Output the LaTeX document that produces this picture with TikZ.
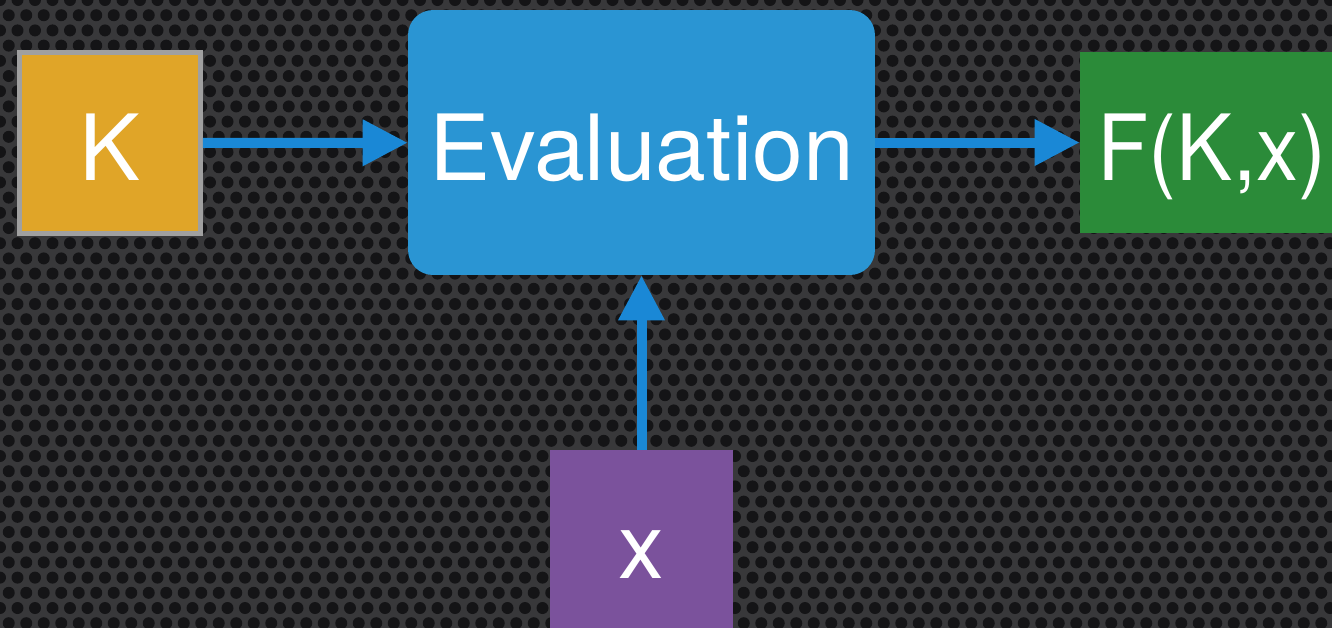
\documentclass[tikz,border=0pt]{standalone}
\usepackage{fontspec}
\setmainfont{TeX Gyre Heros}
\usepackage{xcolor}
\usetikzlibrary{arrows.meta}

\definecolor{meshgray}{HTML}{38383A}
\definecolor{holedark}{HTML}{141416}
\definecolor{keyorange}{HTML}{E0A528}
\definecolor{keyrim}{HTML}{A0A0A0}
\definecolor{evalblue}{HTML}{2A95D3}
\definecolor{linkblue}{HTML}{1A88D6}
\definecolor{outgreen}{HTML}{2B8B39}
\definecolor{inpurple}{HTML}{7B529C}

\begin{document}
\begin{tikzpicture}[x=0.02cm, y=-0.02cm,
        box/.style={inner sep=0pt, text=white, text height=1.5cm, text depth=0pt, font=\fontsize{52}{60}\selectfont},
        link/.style={draw=linkblue, line width=0.2cm, -{Triangle[length=0.9cm, width=0.88cm]}}]
                \useasboundingbox (0,0) rectangle (1332,627);
                \clip (0,0) rectangle (1332,627);
                % perforated background
                \fill[meshgray] (-10,-10) rectangle (1342,637);
                \foreach \j in {0,...,42} {
                    \fill[holedark] \foreach \i in {0,...,77} {({17.5*\i+8.75*mod(\j,2)},{15.2*\j}) circle (0.12cm)};
                }
                % boxes
                \node[box, fill=keyorange, draw=keyrim, line width=0.1cm, minimum width=3.62cm, minimum height=3.62cm] (key) at (110,143) {K};
                \node[box, fill=evalblue, rounded corners=0.5cm, minimum width=9.34cm, minimum height=5.3cm] (eval) at (641.5,142.5) {Evaluation};
                \node[box, fill=outgreen, minimum width=5.28cm, minimum height=3.62cm] (fkx) at (1212,142.5) {\addfontfeatures{FakeStretch=0.92}F(K,x)};
                \node[box, fill=inpurple, minimum width=3.66cm, minimum height=3.62cm] (xin) at (641.5,540.5) {x};
                % connectors
                \draw[link] (key) -- (eval);
                \draw[link] (eval) -- (fkx);
                \draw[link] (xin) -- (eval);
            \end{tikzpicture}
\end{document}
